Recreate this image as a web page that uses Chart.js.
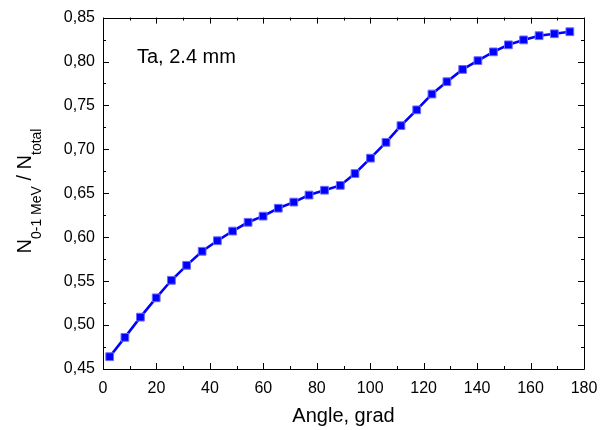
<!DOCTYPE html>
<html>
<head>
<meta charset="utf-8">
<script src="https://cdn.jsdelivr.net/npm/chart.js@4.4.1/dist/chart.umd.min.js"></script>
<style>
  html, body { margin: 0; padding: 0; background: #ffffff; }
  #wrap { width: 608px; height: 430px; position: relative; }
</style>
</head>
<body>
<div id="wrap"><canvas id="c" width="608" height="430"></canvas></div>
<script>
// Scattering angle (degrees)
const angles = [2.5, 8.2, 14.0, 19.9, 25.6, 31.3, 37.1, 42.8, 48.5, 54.3, 59.9,
                65.6, 71.4, 77.1, 82.9, 88.8, 94.3, 100.1, 105.9, 111.5, 117.4,
                123.1, 128.7, 134.6, 140.3, 146.1, 151.7, 157.4, 163.2, 168.9, 174.7];
// Fraction of particles in the 0-1 MeV window
const ratio = [0.464, 0.486, 0.509, 0.531, 0.551, 0.568, 0.584, 0.596, 0.607, 0.617, 0.624,
               0.633, 0.640, 0.648, 0.6535, 0.659, 0.6725, 0.690, 0.708, 0.727, 0.745,
               0.763, 0.777, 0.791, 0.801, 0.811, 0.819, 0.8246, 0.8294, 0.8316, 0.8339];

const xTicks = [0, 20, 40, 60, 80, 100, 120, 140, 160, 180];
const yTicks = [0.45, 0.50, 0.55, 0.60, 0.65, 0.70, 0.75, 0.80, 0.85];
const sampleLabel = 'Ta, 2.4 mm';
const xTitle = 'Angle, grad';

const FONT = '"Liberation Sans", Arial, sans-serif';

// Frame with inward major/minor ticks on all four sides, plus text annotations
const framePlugin = {
  id: 'frame',
  afterDatasetsDraw(chart) {
    const { ctx, chartArea: a, scales: { x, y } } = chart;
    ctx.save();
    ctx.strokeStyle = '#000';
    ctx.lineWidth = 1;
    ctx.beginPath();
    ctx.rect(Math.round(a.left) + 0.5, Math.round(a.top) + 0.5,
             Math.round(a.right - a.left), Math.round(a.bottom - a.top));
    ctx.stroke();

    ctx.beginPath();
    const xMinor = xTicks.slice(0, -1).map(v => v + 10);
    const yMinor = yTicks.slice(0, -1).map(v => v + 0.025);
    const tickX = (v, len) => {
      const px = Math.round(x.getPixelForValue(v)) + 0.5;
      ctx.moveTo(px, a.bottom); ctx.lineTo(px, a.bottom - len);
      ctx.moveTo(px, a.top); ctx.lineTo(px, a.top + len);
    };
    const tickY = (v, len) => {
      const py = Math.round(y.getPixelForValue(v)) + 0.5;
      ctx.moveTo(a.left, py); ctx.lineTo(a.left + len, py);
      ctx.moveTo(a.right, py); ctx.lineTo(a.right - len, py);
    };
    xTicks.forEach(v => tickX(v, 6));
    xMinor.forEach(v => tickX(v, 3));
    yTicks.forEach(v => tickY(v, 6));
    yMinor.forEach(v => tickY(v, 3));
    ctx.stroke();

    ctx.fillStyle = '#000';
    // sample annotation
    ctx.font = '20px ' + FONT;
    ctx.textAlign = 'left';
    ctx.textBaseline = 'alphabetic';
    ctx.fillText(sampleLabel, 137, 63);

    // x-axis title
    ctx.font = '20px ' + FONT;
    ctx.textAlign = 'center';
    ctx.fillText(xTitle, (a.left + a.right) / 2, 422);

    // y-axis title with subscripts: N_{0-1 MeV} / N_{total}
    const parts = [
      { t: 'N', size: 20, dy: 0 },
      { t: '0-1 MeV', size: 14, dy: 10 },
      { t: ' / ', size: 20, dy: 0 },
      { t: 'N', size: 20, dy: 0 },
      { t: 'total', size: 14, dy: 10 }
    ];
    let total = 0;
    parts.forEach(p => { ctx.font = p.size + 'px ' + FONT; p.w = ctx.measureText(p.t).width; total += p.w; });
    ctx.translate(31, 191);
    ctx.rotate(-Math.PI / 2);
    ctx.textAlign = 'left';
    let cx = -total / 2;
    parts.forEach(p => {
      ctx.font = p.size + 'px ' + FONT;
      ctx.fillText(p.t, cx, p.dy);
      cx += p.w;
    });
    ctx.restore();
  }
};

new Chart(document.getElementById('c'), {
  type: 'line',
  data: {
    datasets: [{
      data: angles.map((a, i) => ({ x: a, y: ratio[i] })),
      borderColor: '#0000ff',
      borderWidth: 2.6,
      backgroundColor: '#0000ff',
      pointStyle: 'rect',
      pointRadius: 5.5,
      pointBorderWidth: 1,
      pointBorderColor: '#6b6bff',
      pointBackgroundColor: '#0000ff',
      tension: 0,
      fill: false
    }]
  },
  options: {
    responsive: false,
    animation: false,
    devicePixelRatio: 1,
    layout: { padding: { top: 12, right: 24, left: 0, bottom: 0 } },
    plugins: { legend: { display: false }, tooltip: { enabled: false } },
    scales: {
      x: {
        type: 'linear', min: 0, max: 180,
        afterFit: s => { s.height = 61; },
        afterBuildTicks: s => { s.ticks = xTicks.map(v => ({ value: v })); },
        grid: { display: false, drawTicks: false },
        border: { display: false },
        ticks: { color: '#000', font: { family: FONT, size: 16 }, padding: 10, maxRotation: 0 }
      },
      y: {
        type: 'linear', min: 0.45, max: 0.85,
        afterFit: s => { s.width = 103; },
        afterBuildTicks: s => { s.ticks = yTicks.map(v => ({ value: v })); },
        grid: { display: false, drawTicks: false },
        border: { display: false },
        ticks: {
          color: '#000', font: { family: FONT, size: 16 }, padding: 8,
          callback: v => Number(v).toFixed(2).replace('.', ',')
        }
      }
    }
  },
  plugins: [framePlugin]
});
</script>
</body>
</html>
